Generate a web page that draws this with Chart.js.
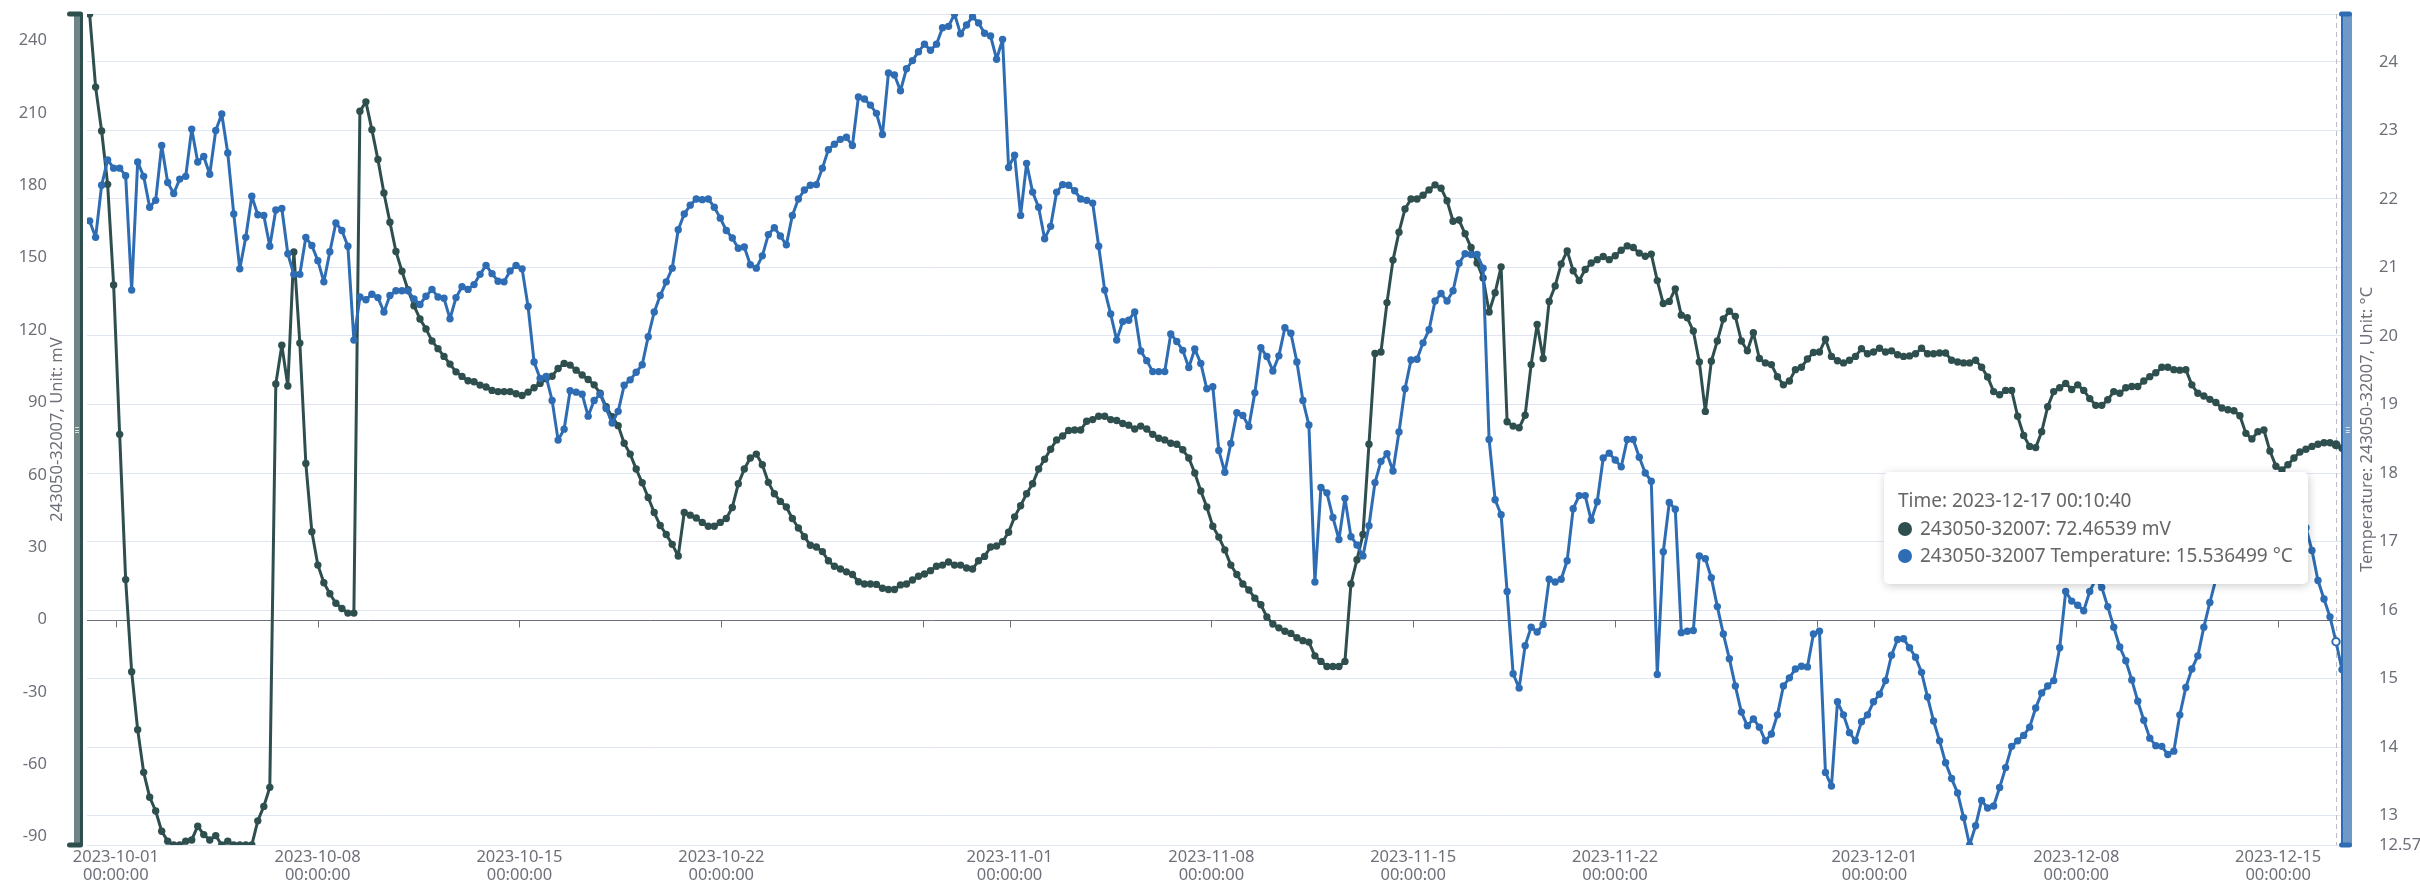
<!DOCTYPE html>
<html>
<head>
<meta charset="utf-8">
<title>243050-32007</title>
<script src="https://cdn.jsdelivr.net/npm/chart.js@4.4.1/dist/chart.umd.min.js"></script>
<style>
  html, body { margin: 0; padding: 0; background: #ffffff; }
  #wrap { position: relative; width: 2420px; height: 893px; overflow: hidden; }
  #c { display: block; }
  #tip {
    position: absolute; display: none; box-sizing: border-box;
    background: #ffffff; border-radius: 5px;
    box-shadow: rgba(0, 0, 0, 0.2) 1px 2px 10px;
    padding: 15px 15px 14px 14px;
    font-family: "Noto Sans", "Open Sans", sans-serif; font-size: 19px;
    line-height: 27.5px; color: #666666; white-space: nowrap;
  }
  #tip .dot {
    display: inline-block; width: 14px; height: 14px; border-radius: 50%;
    margin-right: 8px; vertical-align: -1px;
  }
</style>
</head>
<body>
<div id="wrap">
  <canvas id="c" width="2420" height="893"></canvas>
  <div id="tip"></div>
</div>
<script>
// ---- series identity ----
const SENSOR = '243050-32007';
const MV_NAME = SENSOR;
const TEMP_NAME = SENSOR + ' Temperature';
const MV_UNIT = 'mV';
const TEMP_UNIT = '°C';

// ---- sampling: one reading every 5 hours ----
const FIRST_SAMPLE = '2023-09-30 02:10:40';
const SAMPLE_HOURS = 5;
const AXIS_START = '2023-09-30 00:00:00';
const HOVER_TIME = '2023-12-17 00:10:40';

// ---- axis ticks ----
const DATE_TICKS = ['2023-10-01', '2023-10-08', '2023-10-15', '2023-10-22', '2023-10-29',
  '2023-11-01', '2023-11-08', '2023-11-15', '2023-11-22', '2023-11-29',
  '2023-12-01', '2023-12-08', '2023-12-15'];
const HIDDEN_DATE_LABELS = ['2023-10-29', '2023-11-29'];
const MV_TICKS = [-90, -60, -30, 0, 30, 60, 90, 120, 150, 180, 210, 240];
const TEMP_TICKS = [13, 14, 15, 16, 17, 18, 19, 20, 21, 22, 23, 24];

// ---- readings: potential (mV) ----
const MV = [
  251.0, 220.7, 202.5, 180.4, 138.7, 76.8, 16.6, -21.6, -45.6, -63.3,
  -73.6, -79.3, -87.7, -91.8, -93.4, -93.4, -91.8, -91.3, -85.6, -89.1,
  -91.3, -89.5, -93.4, -91.8, -93.4, -93.4, -93.4, -93.4, -83.4, -77.4,
  -69.5, 97.7, 113.7, 96.8, 152.4, 114.6, 64.7, 36.4, 22.6, 15.3,
  10.7, 6.8, 4.6, 2.7, 2.7, 210.7, 214.6, 203.0, 190.7, 176.8,
  164.7, 152.6, 144.4, 136.7, 130.1, 124.6, 120.5, 115.5, 112.3, 109.1,
  105.9, 102.7, 100.8, 99.0, 98.6, 97.2, 96.4, 95.0, 94.5, 94.5,
  94.5, 93.6, 92.9, 94.3, 96.1, 97.9, 99.8, 100.9, 104.1, 106.2,
  105.5, 103.4, 101.4, 99.5, 97.3, 93.8, 88.2, 84.1, 80.4, 73.1,
  68.6, 62.4, 56.7, 50.6, 44.4, 39.0, 35.3, 31.2, 26.4, 44.4,
  43.3, 42.1, 40.3, 38.7, 38.7, 40.3, 41.9, 46.5, 56.3, 62.4,
  67.0, 68.6, 64.2, 56.9, 52.2, 49.0, 46.7, 41.9, 38.0, 34.4,
  30.8, 30.1, 28.2, 24.4, 22.1, 21.0, 19.8, 18.7, 15.7, 14.8,
  14.8, 14.6, 13.0, 12.5, 12.5, 14.4, 14.8, 16.4, 18.0, 18.9,
  20.3, 22.1, 22.6, 23.9, 22.6, 22.6, 21.4, 21.0, 24.4, 26.2,
  30.1, 30.5, 32.3, 36.2, 42.6, 47.2, 52.2, 56.3, 62.4, 66.5,
  70.6, 74.5, 76.1, 78.4, 78.6, 78.6, 82.2, 82.9, 84.3, 84.3,
  82.9, 82.5, 81.3, 80.6, 79.0, 80.2, 79.0, 76.8, 75.2, 74.5,
  73.1, 72.7, 70.4, 67.0, 60.8, 53.3, 46.7, 38.7, 34.2, 28.9,
  22.6, 18.7, 14.8, 12.3, 8.9, 6.2, 1.1, -1.8, -3.4, -4.8,
  -5.7, -7.5, -8.7, -9.3, -15.0, -17.3, -19.4, -19.4, -19.4, -17.3,
  14.8, 24.8, 35.3, 72.7, 110.3, 110.9, 131.4, 149.0, 160.6, 170.2,
  174.3, 174.3, 175.9, 178.1, 180.2, 178.8, 173.6, 165.1, 165.6, 159.9,
  154.2, 147.8, 141.6, 127.5, 135.5, 146.2, 82.0, 80.2, 79.5, 84.7,
  105.7, 122.3, 108.2, 131.9, 138.3, 147.4, 152.8, 144.6, 140.5, 145.1,
  147.8, 149.2, 150.5, 149.2, 150.8, 153.1, 154.9, 154.2, 151.9, 150.6,
  151.5, 140.5, 131.0, 131.9, 137.1, 126.2, 125.1, 119.6, 106.8, 86.3,
  107.1, 115.5, 124.6, 127.8, 125.7, 115.5, 111.4, 118.9, 108.2, 106.4,
  105.7, 100.7, 97.3, 98.9, 103.6, 104.6, 108.0, 110.7, 110.9, 116.2,
  109.1, 107.3, 106.4, 107.5, 109.1, 112.3, 110.2, 110.9, 112.5, 110.9,
  111.4, 109.8, 109.1, 109.3, 110.2, 112.5, 110.2, 110.2, 110.5, 110.5,
  107.5, 106.8, 106.4, 106.4, 107.5, 104.6, 100.6, 94.5, 93.2, 95.0,
  95.0, 84.3, 76.3, 71.8, 71.3, 77.9, 88.2, 94.5, 96.1, 97.9,
  95.4, 97.3, 95.0, 91.6, 88.8, 88.8, 91.1, 94.5, 93.8, 96.1,
  96.6, 96.6, 98.9, 100.7, 102.3, 104.6, 104.6, 103.6, 103.4, 103.6,
  97.3, 93.8, 92.7, 91.3, 90.0, 87.7, 87.0, 86.6, 84.5, 77.2,
  74.9, 77.9, 78.6, 69.9, 63.6, 62.0, 64.2, 67.0, 69.5, 70.6,
  71.8, 72.7, 73.3, 73.3, 72.46539, 71.0
];

// ---- readings: temperature (°C) ----
const TEMP = [
  21.68, 21.44, 22.20, 22.57, 22.45, 22.45, 22.34, 20.67, 22.54, 22.33,
  21.88, 21.98, 22.78, 22.24, 22.08, 22.29, 22.33, 23.02, 22.54, 22.62,
  22.36, 23.00, 23.24, 22.67, 21.78, 20.98, 21.44, 22.04, 21.77, 21.76,
  21.31, 21.84, 21.86, 21.20, 20.90, 20.90, 21.44, 21.32, 21.10, 20.79,
  21.23, 21.65, 21.54, 21.31, 19.94, 20.57, 20.53, 20.61, 20.56, 20.35,
  20.59, 20.66, 20.66, 20.66, 20.54, 20.46, 20.58, 20.68, 20.57, 20.55,
  20.25, 20.56, 20.72, 20.68, 20.75, 20.90, 21.03, 20.91, 20.80, 20.79,
  20.95, 21.03, 20.98, 20.43, 19.62, 19.38, 19.41, 19.06, 18.48, 18.64,
  19.20, 19.18, 19.15, 18.83, 19.06, 19.15, 18.94, 18.73, 18.90, 19.28,
  19.36, 19.47, 19.58, 19.99, 20.35, 20.59, 20.79, 20.99, 21.55, 21.78,
  21.91, 22.00, 21.99, 22.00, 21.88, 21.72, 21.54, 21.43, 21.28, 21.30,
  21.04, 20.99, 21.17, 21.48, 21.58, 21.46, 21.33, 21.76, 22.00, 22.13,
  22.20, 22.21, 22.45, 22.72, 22.80, 22.87, 22.90, 22.78, 23.49, 23.46,
  23.37, 23.25, 22.94, 23.84, 23.81, 23.58, 23.90, 24.02, 24.15, 24.26,
  24.17, 24.26, 24.50, 24.52, 24.70, 24.41, 24.54, 24.66, 24.57, 24.42,
  24.38, 24.04, 24.33, 22.46, 22.64, 21.76, 22.52, 22.10, 21.88, 21.42,
  21.60, 22.10, 22.21, 22.20, 22.12, 22.00, 21.98, 21.94, 21.31, 20.67,
  20.32, 19.94, 20.21, 20.23, 20.35, 19.78, 19.64, 19.48, 19.48, 19.48,
  20.03, 19.92, 19.79, 19.54, 19.81, 19.60, 19.23, 19.26, 18.33, 18.01,
  18.43, 18.88, 18.84, 18.68, 19.17, 19.83, 19.70, 19.49, 19.71, 20.12,
  20.04, 19.62, 19.06, 18.70, 16.41, 17.79, 17.71, 17.35, 17.03, 17.63,
  17.07, 16.95, 16.79, 17.23, 17.86, 18.17, 18.28, 18.03, 18.60, 19.23,
  19.65, 19.66, 19.90, 20.09, 20.51, 20.62, 20.51, 20.66, 21.06, 21.20,
  21.19, 21.19, 20.99, 18.49, 17.61, 17.39, 16.27, 15.07, 14.86, 15.48,
  15.75, 15.68, 15.79, 16.45, 16.41, 16.45, 16.72, 17.48, 17.67, 17.67,
  17.31, 17.58, 18.22, 18.29, 18.19, 18.09, 18.49, 18.49, 18.23, 18.00,
  17.88, 15.06, 16.85, 17.57, 17.47, 15.67, 15.69, 15.70, 16.79, 16.75,
  16.47, 16.05, 15.65, 15.29, 14.89, 14.51, 14.31, 14.41, 14.29, 14.09,
  14.19, 14.47, 14.89, 15.01, 15.14, 15.18, 15.17, 15.65, 15.69, 13.63,
  13.43, 14.66, 14.47, 14.21, 14.09, 14.37, 14.47, 14.66, 14.77, 14.97,
  15.34, 15.57, 15.58, 15.45, 15.31, 15.09, 14.73, 14.38, 14.09, 13.77,
  13.54, 13.33, 12.97, 12.57, 12.85, 13.22, 13.11, 13.14, 13.41, 13.70,
  14.01, 14.09, 14.17, 14.29, 14.57, 14.79, 14.89, 14.97, 15.45, 16.27,
  16.13, 16.07, 15.99, 16.27, 16.45, 16.33, 16.05, 15.75, 15.46, 15.26,
  14.98, 14.67, 14.39, 14.13, 14.02, 14.01, 13.89, 13.94, 14.47, 14.87,
  15.14, 15.33, 15.75, 16.11, 16.45, 16.80, 17.10, 17.35, 17.55, 17.70,
  17.80, 17.85, 17.85, 17.80, 17.80, 17.75, 17.70, 17.60, 17.45, 17.20,
  16.87, 16.43, 16.16, 15.90, 15.536499, 15.13
];

// ---- styling ----
const GREEN = '#2F4F4F';
const BLUE = '#2E6DB4';
const GREEN_BAR = '#6E8585';
const BLUE_BAR = '#6D98C8';
const AXIS_TEXT = '#6E7079';
const GRID = '#E0E6F1';
const POINTER = '#B9BEC9';
const FONT = '"Noto Sans", "Open Sans", sans-serif';
const TICK_FONT = { family: FONT, size: 16.5, lineHeight: 1.1 };

// ---- time helpers (all stamps are wall-clock, kept in UTC fields) ----
const pad = n => String(n).padStart(2, '0');
function parseStamp(s) {
  const [d, t = '00:00:00'] = s.split(' ');
  const [Y, M, D] = d.split('-').map(Number);
  const [h, m, sec] = t.split(':').map(Number);
  return Date.UTC(Y, M - 1, D, h, m, sec);
}
function formatDate(ms) {
  const d = new Date(ms);
  return d.getUTCFullYear() + '-' + pad(d.getUTCMonth() + 1) + '-' + pad(d.getUTCDate());
}
function formatClock(ms) {
  const d = new Date(ms);
  return pad(d.getUTCHours()) + ':' + pad(d.getUTCMinutes()) + ':' + pad(d.getUTCSeconds());
}

const t0 = parseStamp(FIRST_SAMPLE);
const TIMES = MV.map((_, i) => t0 + i * SAMPLE_HOURS * 3600e3);
const mvPoints = MV.map((v, i) => ({ x: TIMES[i], y: v }));
const tempPoints = TEMP.map((v, i) => ({ x: TIMES[i], y: v }));
const hoverIndex = TIMES.indexOf(parseStamp(HOVER_TIME));

const mvMin = Math.min(...MV), mvMax = Math.max(...MV);
const tMin = Math.min(...TEMP), tMax = Math.max(...TEMP);

// ---- frame decorations: range bars, zero baseline, pointer, axis names ----
function rangeBar(ctx, a, side, dark, fill) {
  const top = a.top, bottom = a.bottom;
  let fx0, fx1, sx0, sx1, cx0, cx1;
  if (side === 'left') {
    fx0 = a.left - 13; fx1 = a.left - 7; sx0 = a.left - 7; sx1 = a.left - 4;
    cx0 = a.left - 20; cx1 = a.left - 4;
  } else {
    sx0 = a.right - 1; sx1 = a.right + 1.5; fx0 = a.right + 1.5; fx1 = a.right + 10;
    cx0 = a.right - 3; cx1 = a.right + 10;
  }
  ctx.fillStyle = fill;
  ctx.fillRect(fx0, top, fx1 - fx0, bottom - top);
  ctx.fillStyle = dark;
  ctx.fillRect(sx0, top, sx1 - sx0, bottom - top);
  // end handles
  [top, bottom].forEach(yy => {
    ctx.beginPath();
    ctx.roundRect(cx0, yy - 2.5, cx1 - cx0, 5, 2.5);
    ctx.fill();
  });
  // grip mark
  const gx = (fx0 + fx1) / 2, gy = (top + bottom) / 2;
  ctx.strokeStyle = 'rgba(255,255,255,0.75)';
  ctx.lineWidth = 1;
  ctx.beginPath();
  for (let k = -1; k <= 1; k++) {
    ctx.moveTo(gx - 2, Math.round(gy + k * 2.5) + 0.5);
    ctx.lineTo(gx + 2, Math.round(gy + k * 2.5) + 0.5);
  }
  ctx.stroke();
}

const frame = {
  id: 'frame',
  beforeDatasetsDraw(chart) {
    const { ctx, chartArea: a, scales } = chart;
    ctx.save();
    rangeBar(ctx, a, 'left', GREEN, GREEN_BAR);
    rangeBar(ctx, a, 'right', BLUE, BLUE_BAR);

    // zero baseline of the potential axis, carrying the date ticks
    const y0 = Math.round(scales.y.getPixelForValue(0)) + 0.5;
    ctx.strokeStyle = AXIS_TEXT;
    ctx.lineWidth = 1;
    ctx.beginPath();
    ctx.moveTo(a.left, y0);
    ctx.lineTo(a.right, y0);
    scales.x.ticks.forEach(t => {
      const px = Math.round(scales.x.getPixelForValue(t.value)) + 0.5;
      ctx.moveTo(px, y0);
      ctx.lineTo(px, y0 + 7);
    });
    ctx.stroke();

    // axis pointer at the hovered reading
    const act = chart.getActiveElements();
    if (act.length) {
      const px = Math.round(act[0].element.x) + 0.5;
      ctx.strokeStyle = POINTER;
      ctx.setLineDash([5, 4]);
      ctx.beginPath();
      ctx.moveTo(px, a.top);
      ctx.lineTo(px, a.bottom);
      ctx.stroke();
      ctx.setLineDash([]);
    }
    ctx.restore();
  },
  afterDraw(chart) {
    const { ctx, chartArea: a } = chart;
    const cy = (a.top + a.bottom) / 2;
    ctx.save();
    ctx.fillStyle = AXIS_TEXT;
    ctx.font = '16.5px ' + FONT;
    ctx.textAlign = 'center';
    ctx.textBaseline = 'middle';
    [[a.left - 30, MV_NAME + ', Unit: ' + MV_UNIT],
     [a.right + 25.5, 'Temperature: ' + SENSOR + ', Unit: ' + TEMP_UNIT]].forEach(([x, text]) => {
      ctx.save();
      ctx.translate(x, cy);
      ctx.rotate(-Math.PI / 2);
      ctx.fillText(text, 0, 0);
      ctx.restore();
    });
    ctx.restore();
  }
};

// ---- tooltip card ----
const tipEl = document.getElementById('tip');
function renderTip(context) {
  const { chart, tooltip } = context;
  if (!tooltip || tooltip.opacity === 0 || !tooltip.dataPoints || !tooltip.dataPoints.length) {
    tipEl.style.display = 'none';
    return;
  }
  const pts = tooltip.dataPoints.slice().sort((p, q) => p.datasetIndex - q.datasetIndex);
  const rows = ['Time: ' + formatDate(pts[0].parsed.x) + ' ' + formatClock(pts[0].parsed.x)];
  pts.forEach(p => {
    const ds = p.dataset;
    rows.push('<span class="dot" style="background:' + ds.borderColor + '"></span>' +
      ds.label + ': ' + String(ds.data[p.dataIndex].y) + ' ' + ds.unit);
  });
  tipEl.innerHTML = rows.join('<br>');
  tipEl.style.display = 'block';
  const px = pts[0].element.x;
  tipEl.style.left = (px - 28 - tipEl.offsetWidth) + 'px';
  tipEl.style.top = (chart.chartArea.top + 458) + 'px';
}

Chart.defaults.font.family = FONT;
Chart.defaults.color = AXIS_TEXT;

const lineStyle = { borderWidth: 3, borderJoinStyle: 'round', borderCapStyle: 'round', tension: 0, fill: false };

const chart = new Chart(document.getElementById('c'), {
  type: 'line',
  data: {
    datasets: [
      Object.assign({
        label: MV_NAME, unit: MV_UNIT, data: mvPoints, yAxisID: 'y', order: 1,
        borderColor: GREEN, backgroundColor: GREEN,
        pointRadius: 3.7, pointBorderWidth: 0, pointBackgroundColor: GREEN,
        pointHoverRadius: 4.5, pointHoverBorderWidth: 0, pointHoverBackgroundColor: GREEN
      }, lineStyle),
      Object.assign({
        label: TEMP_NAME, unit: TEMP_UNIT, data: tempPoints, yAxisID: 'y1', order: 0,
        borderColor: BLUE, backgroundColor: BLUE,
        pointRadius: 3.7, pointBorderWidth: 0, pointBackgroundColor: BLUE,
        pointHoverRadius: 3.7, pointHoverBorderWidth: 2, pointHoverBorderColor: BLUE,
        pointHoverBackgroundColor: '#ffffff'
      }, lineStyle)
    ]
  },
  options: {
    responsive: false,
    animation: false,
    devicePixelRatio: 1,
    layout: { padding: { top: 14, left: 0, right: 0, bottom: 0 } },
    interaction: { mode: 'index', intersect: false },
    events: [],
    plugins: {
      legend: { display: false },
      tooltip: { enabled: false, external: renderTip }
    },
    scales: {
      x: {
        type: 'linear',
        min: parseStamp(AXIS_START),
        max: TIMES[TIMES.length - 1],
        grid: { display: false, drawTicks: false },
        border: { display: false },
        afterBuildTicks: s => { s.ticks = DATE_TICKS.map(d => ({ value: parseStamp(d) })); },
        afterFit: s => { s.height = 48; },
        ticks: {
          autoSkip: false, maxRotation: 0, padding: 3,
          color: AXIS_TEXT, font: TICK_FONT,
          callback: v => HIDDEN_DATE_LABELS.includes(formatDate(v)) ? '' : [formatDate(v), formatClock(v)]
        }
      },
      y: {
        position: 'left',
        min: mvMin, max: mvMax,
        // tick marks are not drawn; their length only sets the label gap
        grid: { display: false, drawTicks: true, tickLength: 40 },
        border: { display: false },
        afterBuildTicks: s => { s.ticks = MV_TICKS.map(v => ({ value: v })); },
        afterFit: s => { s.width = 87; },
        ticks: { padding: 0, color: AXIS_TEXT, font: TICK_FONT }
      },
      y1: {
        position: 'right',
        min: tMin, max: tMax,
        grid: { display: true, color: GRID, lineWidth: 1, drawTicks: true, tickLength: 37, tickColor: 'rgba(0,0,0,0)' },
        border: { display: false },
        afterBuildTicks: s => { s.ticks = [tMin, ...TEMP_TICKS, tMax].map(v => ({ value: v })); },
        afterFit: s => { s.width = 78; },
        ticks: {
          padding: 0, color: AXIS_TEXT, font: TICK_FONT,
          callback: v => v === tMax ? '' : (v === tMin ? v.toFixed(2) : String(v))
        }
      }
    }
  },
  plugins: [frame]
});

// hovered reading: highlight both series and show the card
const active = [{ datasetIndex: 0, index: hoverIndex }, { datasetIndex: 1, index: hoverIndex }];
chart.setActiveElements(active);
chart.update('none');
chart.tooltip.setActiveElements(active, { x: chart.getDatasetMeta(0).data[hoverIndex].x, y: 528 });
</script>
</body>
</html>
